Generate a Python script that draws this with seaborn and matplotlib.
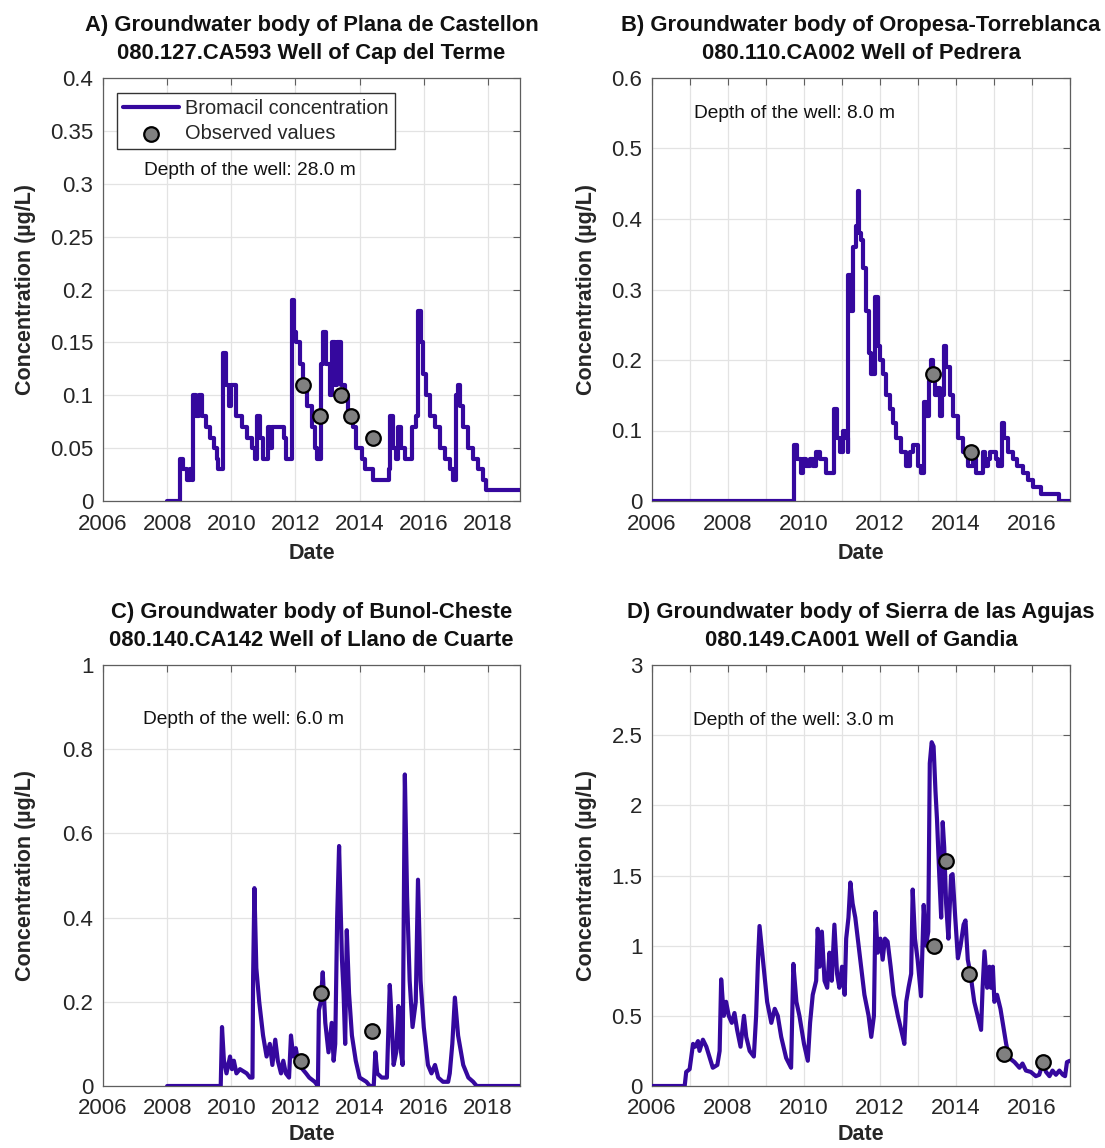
import matplotlib
matplotlib.use("Agg")
import matplotlib.pyplot as plt
import seaborn as sns
import pandas as pd
from matplotlib.ticker import FuncFormatter, MultipleLocator

# ---------------- data ----------------
# Panel A
a_year = [2008.0, 2008.35, 2008.40, 2008.5, 2008.63, 2008.71, 2008.77, 2008.81, 2008.9, 2009.0,
          2009.1, 2009.2, 2009.33, 2009.46, 2009.54, 2009.6, 2009.71, 2009.75, 2009.83, 2009.92,
          2010.0, 2010.08, 2010.16, 2010.32, 2010.48, 2010.63, 2010.74, 2010.79, 2010.9, 2011.0,
          2011.15, 2011.22, 2011.28, 2011.51, 2011.64, 2011.72, 2011.82, 2011.88, 2011.95, 2012.03,
          2012.14, 2012.24, 2012.37, 2012.5, 2012.6, 2012.66, 2012.76, 2012.79, 2012.86, 2012.96,
          2013.07, 2013.14, 2013.22, 2013.3, 2013.36, 2013.43, 2013.54, 2013.64, 2013.8, 2013.9,
          2014.06, 2014.16, 2014.37, 2014.42, 2014.84, 2014.92, 2014.96, 2015.04, 2015.13, 2015.2,
          2015.3, 2015.41, 2015.56, 2015.62, 2015.75, 2015.82, 2015.9, 2015.98, 2016.08, 2016.19,
          2016.34, 2016.5, 2016.65, 2016.81, 2016.91, 2017.0, 2017.06, 2017.12, 2017.23, 2017.38,
          2017.54, 2017.69, 2017.85, 2017.95, 2019.0]
a_conc = [0.0, 0.0, 0.04, 0.03, 0.02, 0.03, 0.02, 0.10, 0.08, 0.10,
          0.08, 0.07, 0.06, 0.05, 0.04, 0.03, 0.03, 0.14, 0.11, 0.09,
          0.11, 0.11, 0.08, 0.07, 0.06, 0.05, 0.04, 0.08, 0.06, 0.04,
          0.07, 0.05, 0.07, 0.07, 0.06, 0.04, 0.04, 0.19, 0.16, 0.15,
          0.13, 0.11, 0.09, 0.07, 0.05, 0.04, 0.04, 0.13, 0.16, 0.13,
          0.10, 0.15, 0.11, 0.15, 0.15, 0.11, 0.10, 0.08, 0.07, 0.05,
          0.04, 0.03, 0.03, 0.02, 0.02, 0.03, 0.08, 0.05, 0.04, 0.07,
          0.05, 0.04, 0.04, 0.07, 0.08, 0.18, 0.15, 0.12, 0.10, 0.08,
          0.07, 0.05, 0.04, 0.03, 0.02, 0.10, 0.11, 0.09, 0.07, 0.05,
          0.04, 0.03, 0.02, 0.01, 0.01]
a_obs_year = [2012.25, 2012.77, 2013.43, 2013.74, 2014.41]
a_obs_conc = [0.11, 0.08, 0.10, 0.08, 0.06]

# Panel B
b_year = [2006.0, 2009.71, 2009.73, 2009.82, 2009.91, 2009.97, 2010.06, 2010.15, 2010.23, 2010.32,
          2010.41, 2010.54, 2010.58, 2010.76, 2010.79, 2010.88, 2010.96, 2011.02, 2011.07, 2011.15,
          2011.17, 2011.24, 2011.3, 2011.36, 2011.42, 2011.46, 2011.5, 2011.55, 2011.64, 2011.7,
          2011.77, 2011.84, 2011.87, 2011.94, 2012.01, 2012.07, 2012.16, 2012.25, 2012.34, 2012.43,
          2012.56, 2012.69, 2012.78, 2012.86, 2013.0, 2013.09, 2013.15, 2013.22, 2013.28, 2013.33,
          2013.39, 2013.45, 2013.52, 2013.59, 2013.63, 2013.68, 2013.74, 2013.83, 2013.91, 2014.05,
          2014.18, 2014.31, 2014.44, 2014.53, 2014.62, 2014.7, 2014.76, 2014.83, 2014.9, 2014.97,
          2015.05, 2015.11, 2015.17, 2015.2, 2015.27, 2015.36, 2015.49, 2015.61, 2015.75, 2015.89,
          2016.02, 2016.19, 2016.24, 2016.67, 2016.7, 2017.0]
b_conc = [0.0, 0.0, 0.08, 0.06, 0.04, 0.06, 0.05, 0.06, 0.05, 0.07,
          0.06, 0.06, 0.04, 0.04, 0.13, 0.09, 0.07, 0.10, 0.09, 0.07,
          0.32, 0.27, 0.36, 0.39, 0.44, 0.38, 0.37, 0.33, 0.27, 0.21,
          0.18, 0.18, 0.29, 0.22, 0.20, 0.18, 0.15, 0.13, 0.11, 0.09,
          0.07, 0.05, 0.07, 0.08, 0.05, 0.04, 0.14, 0.12, 0.17, 0.20,
          0.18, 0.15, 0.16, 0.12, 0.15, 0.22, 0.19, 0.15, 0.12, 0.09,
          0.07, 0.05, 0.06, 0.04, 0.04, 0.07, 0.05, 0.06, 0.07, 0.07,
          0.06, 0.05, 0.05, 0.11, 0.09, 0.07, 0.06, 0.05, 0.04, 0.03,
          0.02, 0.02, 0.01, 0.01, 0.0, 0.0]
b_obs_year = [2013.39, 2014.40]
b_obs_conc = [0.18, 0.07]

# Panel C
c_year = [2008.0, 2009.67, 2009.71, 2009.77, 2009.85, 2009.96, 2010.02, 2010.08, 2010.16, 2010.27,
          2010.48, 2010.58, 2010.66, 2010.68, 2010.72, 2010.78, 2010.87, 2010.99, 2011.1, 2011.2,
          2011.28, 2011.37, 2011.45, 2011.55, 2011.62, 2011.7, 2011.8, 2011.86, 2011.93, 2012.01,
          2012.1, 2012.22, 2012.33, 2012.43, 2012.6, 2012.7, 2012.73, 2012.79, 2012.85, 2012.93,
          2013.03, 2013.13, 2013.19, 2013.24, 2013.3, 2013.36, 2013.45, 2013.5, 2013.55, 2013.6,
          2013.67, 2013.76, 2013.88, 2014.0, 2014.21, 2014.32, 2014.44, 2014.49, 2014.55, 2014.69,
          2014.85, 2014.94, 2014.97, 2015.06, 2015.14, 2015.21, 2015.26, 2015.34, 2015.41, 2015.48,
          2015.56, 2015.65, 2015.75, 2015.82, 2015.9, 2016.0, 2016.13, 2016.24, 2016.35, 2016.45,
          2016.6, 2016.76, 2016.81, 2016.89, 2016.97, 2017.07, 2017.23, 2017.39, 2017.54, 2017.65,
          2019.0]
c_conc = [0.0, 0.0, 0.14, 0.06, 0.03, 0.07, 0.04, 0.06, 0.03, 0.04,
          0.03, 0.02, 0.02, 0.26, 0.47, 0.28, 0.20, 0.12, 0.07, 0.10,
          0.05, 0.11, 0.06, 0.03, 0.06, 0.03, 0.02, 0.12, 0.07, 0.09,
          0.05, 0.04, 0.03, 0.02, 0.01, 0.0, 0.18, 0.20, 0.27, 0.15,
          0.08, 0.15, 0.06, 0.10, 0.40, 0.57, 0.30, 0.22, 0.10, 0.37,
          0.22, 0.12, 0.06, 0.02, 0.01, 0.0, 0.0, 0.08, 0.03, 0.02,
          0.02, 0.24, 0.20, 0.05, 0.08, 0.19, 0.10, 0.05, 0.74, 0.45,
          0.25, 0.14, 0.20, 0.49, 0.25, 0.14, 0.05, 0.03, 0.05, 0.02,
          0.01, 0.01, 0.03, 0.10, 0.21, 0.12, 0.05, 0.02, 0.01, 0.0,
          0.0]
c_obs_year = [2012.17, 2012.81, 2014.40]
c_obs_conc = [0.06, 0.22, 0.13]

# Panel D
d_year = [2006.0, 2006.86, 2006.9, 2006.99, 2007.08, 2007.14, 2007.21, 2007.25, 2007.34, 2007.43,
          2007.52, 2007.6, 2007.72, 2007.78, 2007.82, 2007.89, 2007.95, 2008.02, 2008.1, 2008.17,
          2008.24, 2008.33, 2008.42, 2008.48, 2008.57, 2008.68, 2008.74, 2008.79, 2008.83, 2008.92,
          2009.03, 2009.14, 2009.23, 2009.31, 2009.4, 2009.53, 2009.66, 2009.72, 2009.8, 2009.88,
          2010.0, 2010.1, 2010.16, 2010.23, 2010.32, 2010.36, 2010.41, 2010.47, 2010.54, 2010.61,
          2010.67, 2010.73, 2010.8, 2010.87, 2010.93, 2011.0, 2011.07, 2011.11, 2011.17, 2011.22,
          2011.28, 2011.35, 2011.46, 2011.59, 2011.7, 2011.77, 2011.84, 2011.88, 2011.94, 2012.01,
          2012.07, 2012.13, 2012.2, 2012.28, 2012.36, 2012.47, 2012.6, 2012.64, 2012.69, 2012.75,
          2012.82, 2012.86, 2012.92, 2012.99, 2013.08, 2013.15, 2013.21, 2013.27, 2013.31, 2013.36,
          2013.41, 2013.46, 2013.5, 2013.56, 2013.61, 2013.65, 2013.69, 2013.74, 2013.8, 2013.87,
          2013.91, 2013.98, 2014.05, 2014.12, 2014.2, 2014.25, 2014.31, 2014.38, 2014.48, 2014.57,
          2014.66, 2014.7, 2014.75, 2014.82, 2014.88, 2014.92, 2014.97, 2015.01, 2015.08, 2015.17,
          2015.23, 2015.32, 2015.4, 2015.54, 2015.67, 2015.75, 2015.84, 2015.97, 2016.1, 2016.19,
          2016.28, 2016.37, 2016.46, 2016.54, 2016.63, 2016.72, 2016.81, 2016.87, 2016.92, 2017.0]
d_conc = [0.0, 0.0, 0.10, 0.12, 0.30, 0.28, 0.32, 0.25, 0.33, 0.28,
          0.20, 0.13, 0.15, 0.25, 0.76, 0.50, 0.60, 0.50, 0.45, 0.52,
          0.40, 0.28, 0.50, 0.35, 0.25, 0.21, 0.50, 0.90, 1.14, 0.90,
          0.60, 0.45, 0.55, 0.50, 0.35, 0.20, 0.13, 0.87, 0.60, 0.50,
          0.30, 0.18, 0.45, 0.65, 0.75, 1.12, 0.85, 1.10, 0.75, 0.70,
          0.95, 0.75, 1.15, 0.80, 0.70, 0.85, 0.65, 1.05, 1.20, 1.45,
          1.30, 1.20, 0.95, 0.65, 0.50, 0.35, 0.50, 1.24, 0.95, 1.05,
          0.90, 1.05, 1.03, 0.85, 0.65, 0.50, 0.35, 0.30, 0.60, 0.70,
          0.80, 1.40, 1.05, 0.90, 0.64, 1.29, 1.00, 1.10, 2.30, 2.45,
          2.42, 2.10, 1.90, 1.50, 1.20, 1.88, 1.70, 1.30, 1.05, 1.50,
          1.51, 1.20, 0.91, 1.00, 1.15, 1.18, 0.90, 0.80, 0.60, 0.50,
          0.40, 0.70, 0.96, 0.70, 0.85, 0.70, 0.85, 0.60, 0.65, 0.55,
          0.45, 0.30, 0.20, 0.17, 0.13, 0.16, 0.11, 0.10, 0.07, 0.08,
          0.16, 0.10, 0.07, 0.11, 0.08, 0.11, 0.08, 0.07, 0.17, 0.18]
d_obs_year = [2013.41, 2013.74, 2014.35, 2015.27, 2016.28]
d_obs_conc = [1.00, 1.60, 0.80, 0.23, 0.17]

titles = ["A) Groundwater body of Plana de Castellon\n080.127.CA593 Well of Cap del Terme",
          "B) Groundwater body of Oropesa-Torreblanca\n080.110.CA002 Well of Pedrera",
          "C) Groundwater body of Bunol-Cheste\n080.140.CA142 Well of Llano de Cuarte",
          "D) Groundwater body of Sierra de las Agujas\n080.149.CA001 Well of Gandia"]
depth_labels = ["Depth of the well: 28.0 m", "Depth of the well: 8.0 m",
                "Depth of the well: 6.0 m", "Depth of the well: 3.0 m"]
line_label = "Bromacil concentration"
obs_label = "Observed values"
x_label = "Date"
y_label = "Concentration (\u00b5g/L)"

# ---------------- style ----------------
sns.set_style("white")
plt.rcParams['font.family'] = ['Liberation Sans', 'DejaVu Sans']

LINE_COLOR = "#35089e"
GRID_COLOR = "#e3e3e3"
SPINE_COLOR = "#5e5e5e"
TEXT_COLOR = "#262626"

fig = plt.figure(figsize=(11.05, 11.48), dpi=100)
W, H = 1105.0, 1148.0

def px_axes(left, top, right, bottom):
    return fig.add_axes([left / W, 1 - bottom / H, (right - left) / W, (bottom - top) / H])

panels = [
    dict(ax=px_axes(103, 78, 520, 501), year=a_year, conc=a_conc, oy=a_obs_year, oc=a_obs_conc,
         xlim=(2006, 2019), ylim=(0, 0.4), ystep=0.05, xmajor=2, xminor=2, text=(0.098, 0.781),
         steps=True, ylab_x=-0.160, xlpad=6),
    dict(ax=px_axes(652, 78, 1070, 501), year=b_year, conc=b_conc, oy=b_obs_year, oc=b_obs_conc,
         xlim=(2006, 2017), ylim=(0, 0.6), ystep=0.1, xmajor=2, xminor=1, text=(0.10, 0.915),
         steps=True, ylab_x=-0.131, xlpad=6),
    dict(ax=px_axes(103, 665, 520, 1086), year=c_year, conc=c_conc, oy=c_obs_year, oc=c_obs_conc,
         xlim=(2006, 2019), ylim=(0, 1.0), ystep=0.2, xmajor=2, xminor=2, text=(0.096, 0.87),
         steps=False, ylab_x=-0.160, xlpad=3),
    dict(ax=px_axes(652, 665, 1070, 1086), year=d_year, conc=d_conc, oy=d_obs_year, oc=d_obs_conc,
         xlim=(2006, 2017), ylim=(0, 3.0), ystep=0.5, xmajor=2, xminor=1, text=(0.097, 0.867),
         steps=False, ylab_x=-0.131, xlpad=3),
]

fmt = FuncFormatter(lambda v, p: f"{v:g}")

for i, p in enumerate(panels):
    ax = p["ax"]
    line_df = pd.DataFrame({"Date": p["year"], "Concentration": p["conc"]})
    obs_df = pd.DataFrame({"Date": p["oy"], "Concentration": p["oc"]})
    extra = {"drawstyle": "steps-post"} if p["steps"] else {}
    sns.lineplot(data=line_df, x="Date", y="Concentration", ax=ax, sort=False, estimator=None,
                 color=LINE_COLOR, linewidth=3.0, label=line_label, zorder=3, **extra)
    sns.scatterplot(data=obs_df, x="Date", y="Concentration", ax=ax, s=110,
                    color="#808080", edgecolor="black", linewidth=1.6, label=obs_label, zorder=4)
    ax.set_xlim(*p["xlim"])
    ax.set_ylim(*p["ylim"])
    ax.xaxis.set_major_locator(MultipleLocator(p["xmajor"]))
    ax.xaxis.set_minor_locator(MultipleLocator(p["xminor"]))
    ax.yaxis.set_major_locator(MultipleLocator(p["ystep"]))
    ax.yaxis.set_major_formatter(fmt)
    ax.xaxis.set_major_formatter(FuncFormatter(lambda v, pos: f"{int(round(v))}"))
    ax.grid(True, which="both", color=GRID_COLOR, linewidth=0.9)
    ax.set_axisbelow(True)
    for s in ax.spines.values():
        s.set_visible(True)
        s.set_color(SPINE_COLOR)
        s.set_linewidth(0.9)
    ax.tick_params(axis="both", which="both", direction="in", top=True, right=True,
                   length=5, width=0.8, color=SPINE_COLOR, labelsize=16, labelcolor=TEXT_COLOR)
    ax.tick_params(axis="x", which="major", pad=9)
    ax.tick_params(axis="y", which="major", pad=7)
    ax.set_xlabel(x_label, fontsize=15.5, fontweight="bold", color=TEXT_COLOR, labelpad=p["xlpad"])
    ax.set_ylabel(y_label, fontsize=15.5, fontweight="bold", color=TEXT_COLOR)
    ax.yaxis.set_label_coords(p["ylab_x"], 0.5)
    ax.set_title(titles[i], fontsize=15.8, fontweight="bold", color="#111111", pad=14,
                 linespacing=1.42)
    ax.text(p["text"][0], p["text"][1], depth_labels[i], transform=ax.transAxes,
            fontsize=13.8, va="center", ha="left", color="#111111")
    if i == 0:
        ax.legend(loc="upper left", bbox_to_anchor=(0.034, 0.965), borderaxespad=0,
                  fontsize=14.4, frameon=True, fancybox=False, framealpha=1,
                  edgecolor="#333333", handlelength=2.8, handletextpad=0.3,
                  labelspacing=0.3, borderpad=0.3)
    else:
        leg = ax.get_legend()
        if leg is not None:
            leg.remove()

fig.savefig("out.png", dpi=100)
